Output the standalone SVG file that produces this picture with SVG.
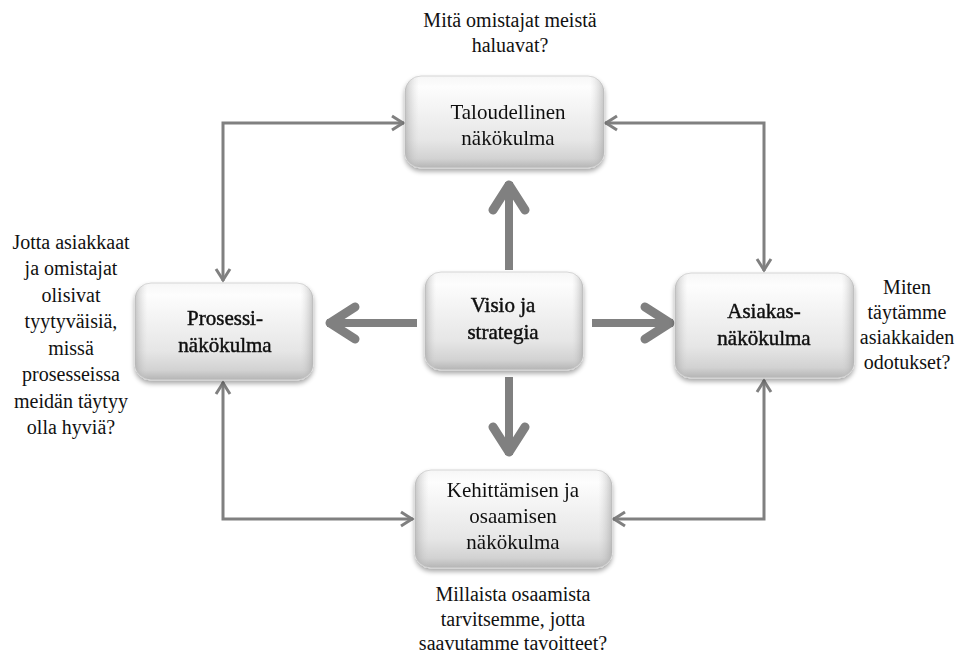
<svg xmlns="http://www.w3.org/2000/svg" width="958" height="654" viewBox="0 0 958 654" font-family="Liberation Serif, DejaVu Serif, serif">
<style>
text{fill:#111;text-anchor:middle}
.q{font-size:20px}
.t{font-size:21px}
.h{stroke:#111;stroke-width:0.45px}
.box{stroke:#d6d6d6;stroke-width:1}
.c{fill:none;stroke:#808080;stroke-width:3}
.b{fill:none;stroke:#808080;stroke-width:8}
</style>
<defs>
<linearGradient id="gv" x1="0" y1="0" x2="0" y2="1">
<stop offset="0" stop-color="#f6f6f6"/>
<stop offset="0.12" stop-color="#fdfdfd"/>
<stop offset="0.7" stop-color="#e6e6e6"/>
<stop offset="0.9" stop-color="#d2d2d2"/>
<stop offset="1" stop-color="#b4b4b4"/>
</linearGradient>
<linearGradient id="gh" x1="0" y1="0" x2="1" y2="0">
<stop offset="0" stop-color="#9a9a9a" stop-opacity="0.55"/>
<stop offset="0.07" stop-color="#cfcfcf" stop-opacity="0"/>
<stop offset="0.93" stop-color="#cfcfcf" stop-opacity="0"/>
<stop offset="1" stop-color="#9a9a9a" stop-opacity="0.55"/>
</linearGradient>
<filter id="sh" x="-10%" y="-10%" width="120%" height="130%">
<feGaussianBlur in="SourceAlpha" stdDeviation="2.5"/>
<feOffset dy="3" result="o"/>
<feComponentTransfer><feFuncA type="linear" slope="0.35"/></feComponentTransfer>
<feMerge><feMergeNode/><feMergeNode in="SourceGraphic"/></feMerge>
</filter>
<marker id="sm" markerUnits="userSpaceOnUse" viewBox="-16 -10 18 20" refX="0" refY="0" markerWidth="18" markerHeight="20" orient="auto-start-reverse">
<path d="M-12,-7 L-1,0 L-12,7" fill="none" stroke="#808080" stroke-width="3"/>
</marker>
<marker id="bg" markerUnits="userSpaceOnUse" viewBox="-40 -24 46 48" refX="0" refY="0" markerWidth="46" markerHeight="48" orient="auto">
<path d="M-28,-16 L-3,0 L-28,16" fill="none" stroke="#808080" stroke-width="9" stroke-linecap="round" stroke-linejoin="round"/>
</marker>
</defs>
<rect width="958" height="654" fill="#fff"/>

<g id="connectors">
<path class="c" d="M404,123 H223 V281" marker-start="url(#sm)" marker-end="url(#sm)"/>
<path class="c" d="M605,123 H764 V271" marker-start="url(#sm)" marker-end="url(#sm)"/>
<path class="c" d="M223,382 V519 H413" marker-start="url(#sm)" marker-end="url(#sm)"/>
<path class="c" d="M764,380 V519 H613" marker-start="url(#sm)" marker-end="url(#sm)"/>
<path class="b" d="M509,270 V182" marker-end="url(#bg)"/>
<path class="b" d="M509,377 V455" marker-end="url(#bg)"/>
<path class="b" d="M417,323 H327" marker-end="url(#bg)"/>
<path class="b" d="M592,323 H673" marker-end="url(#bg)"/>
</g>

<g id="n-talous" filter="url(#sh)">
<rect class="box" x="405" y="76" width="199" height="92" rx="16" fill="url(#gv)"/>
<rect x="405" y="76" width="199" height="92" rx="16" fill="url(#gh)"/>
<text class="t" x="508" y="119">Taloudellinen</text>
<text class="t" x="508" y="145">näkökulma</text>
</g>

<g id="n-visio" filter="url(#sh)">
<rect class="box" x="425" y="272" width="158" height="98" rx="16" fill="url(#gv)"/>
<rect x="425" y="272" width="158" height="98" rx="16" fill="url(#gh)"/>
<text class="t h" x="503" y="312">Visio ja</text>
<text class="t h" x="503" y="339">strategia</text>
</g>

<g id="n-prosessi" filter="url(#sh)">
<rect class="box" x="135" y="283" width="178" height="97" rx="16" fill="url(#gv)"/>
<rect x="135" y="283" width="178" height="97" rx="16" fill="url(#gh)"/>
<text class="t h" x="225" y="325">Prosessi-</text>
<text class="t h" x="225" y="352">näkökulma</text>
</g>

<g id="n-asiakas" filter="url(#sh)">
<rect class="box" x="675" y="273" width="179" height="105" rx="16" fill="url(#gv)"/>
<rect x="675" y="273" width="179" height="105" rx="16" fill="url(#gh)"/>
<text class="t h" x="764" y="318">Asiakas-</text>
<text class="t h" x="764" y="345">näkökulma</text>
</g>

<g id="n-kehitys" filter="url(#sh)">
<rect class="box" x="415" y="470" width="197" height="98" rx="16" fill="url(#gv)"/>
<rect x="415" y="470" width="197" height="98" rx="16" fill="url(#gh)"/>
<text class="t" x="513" y="497">Kehittämisen ja</text>
<text class="t" x="513" y="523">osaamisen</text>
<text class="t" x="513" y="549">näkökulma</text>
</g>

<g id="q-top">
<text class="q" x="510" y="27">Mitä omistajat meistä</text>
<text class="q" x="510" y="52">haluavat?</text>
</g>
<g id="q-left">
<text class="q" x="71" y="249">Jotta asiakkaat</text>
<text class="q" x="71" y="275">ja omistajat</text>
<text class="q" x="71" y="302">olisivat</text>
<text class="q" x="71" y="328">tyytyväisiä,</text>
<text class="q" x="71" y="355">missä</text>
<text class="q" x="71" y="381">prosesseissa</text>
<text class="q" x="71" y="408">meidän täytyy</text>
<text class="q" x="71" y="434">olla hyviä?</text>
</g>
<g id="q-right">
<text class="q" x="907" y="294">Miten</text>
<text class="q" x="907" y="319">täytämme</text>
<text class="q" x="907" y="344">asiakkaiden</text>
<text class="q" x="907" y="369">odotukset?</text>
</g>
<g id="q-bottom">
<text class="q" x="513" y="601">Millaista osaamista</text>
<text class="q" x="513" y="626">tarvitsemme, jotta</text>
<text class="q" x="513" y="650">saavutamme tavoitteet?</text>
</g>
</svg>
